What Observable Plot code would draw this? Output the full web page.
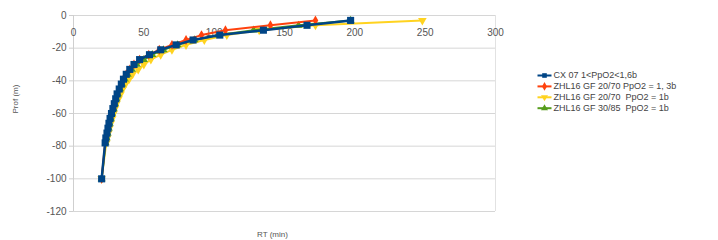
<!DOCTYPE html>
<html>
<head>
<meta charset="utf-8">
<script src="https://cdn.jsdelivr.net/npm/d3@7"></script>
<script src="https://cdn.jsdelivr.net/npm/@observablehq/plot@0.6"></script>
<style>
  html, body { margin: 0; padding: 0; background: #fff; }
  #chart svg { display: block; }
</style>
</head>
<body>
<div id="chart"></div>
<script>
// ---- data ----
const depths = [3, 6, 9, 12, 15, 18, 21, 24, 27, 30, 33, 36, 39, 42, 45, 48, 51, 54, 57, 60, 63, 66, 69, 72, 75, 78, 100];
const cx07RT  = [197, 166, 135, 104, 85, 73, 62, 54, 47, 43, 40, 37.5, 35.5, 34, 32.5, 31, 30, 29, 28, 27, 26, 25.2, 24.5, 23.8, 23, 22.5, 20];
const zhl2070_13RT = [172, 140, 108, 91, 80, 70, 61, 53.5, 47, 43, 40, 37.5, 35.5, 34, 32.5, 31, 30, 29, 28, 27, 26, 25.2, 24.5, 23.8, 23, 22.5, 20];
const zhl2070_1RT  = [248, 172, 132, 109, 93, 80, 70, 62, 55, 50, 46, 42, 39.5, 37, 35, 33.5, 32, 30.5, 29.5, 28.5, 27.5, 26.5, 25.5, 24.8, 24, 23.3, 20];
const zhl3085_1RT  = [197, 160, 128, 103, 86, 74, 64, 56, 50, 45, 41.5, 38.5, 36.5, 34.5, 33, 31.5, 30.5, 29.5, 28.5, 27.5, 26.5, 25.7, 25, 24.2, 23.5, 22.8, 20];
const seriesNames = ["CX 07 1<PpO2<1,6b", "ZHL16 GF 20/70 PpO2 = 1, 3b", "ZHL16 GF 20/70  PpO2 = 1b", "ZHL16 GF 30/85  PpO2 = 1b"];
const seriesRT = [cx07RT, zhl2070_13RT, zhl2070_1RT, zhl3085_1RT];
const xTicks = [0, 50, 100, 150, 200, 250, 300];
const yTicks = [0, -20, -40, -60, -80, -100, -120];

// ---- styles ----
const colors = ["#004586", "#ff420e", "#ffd320", "#579d1c"];
const symbols = ["square", "diamond", "triangle", "triangle"];
const rotations = [0, 0, 180, 0];
const sizes = [4, 3, 3.2, 3];
const drawOrder = [2, 3, 1, 0];

const W = 718, H = 240;
const M = {left: 73, right: 223, top: 15, bottom: 29};
const xDomain = [0, 300], yDomain = [-120, 0];
// pixel -> data helpers (for legend placement in margin)
const pxX = px => xDomain[0] + (px - M.left) / (W - M.left - M.right) * (xDomain[1] - xDomain[0]);
const pxY = py => yDomain[1] - (py - M.top) / (H - M.top - M.bottom) * (yDomain[1] - yDomain[0]);

const seriesData = seriesRT.map((rts, s) => depths.map((d, i) => ({name: seriesNames[s], rt: rts[i], depth: -d})));

const marks = [
  Plot.ruleY(yTicks, {stroke: "#d6d6d6", strokeWidth: 1}),
  Plot.ruleX([0], {stroke: "#cfcfcf"}),
  Plot.ruleX([300], {stroke: "#e2e2e2"}),
  Plot.axisY({ticks: yTicks, tickFormat: d => String(d), tickSize: 4, tickPadding: 3, fontSize: 10, color: "#555", stroke: "#cfcfcf", label: null}),
  Plot.text(xTicks, {x: d => d, y: 0, dy: 17, text: d => String(d), fill: "#555", fontSize: 10}),
  Plot.text(["Prof (m)"], {frameAnchor: "left", dx: -58, rotate: -90, fill: "#555", fontSize: 8}),
  Plot.text(["RT (min)"], {frameAnchor: "bottom", dx: -12, dy: 25, fill: "#555", fontSize: 8})
];

for (const s of drawOrder) {
  marks.push(Plot.line(seriesData[s], {x: "rt", y: "depth", stroke: colors[s], strokeWidth: s === 0 ? 2.5 : 2}));
  marks.push(Plot.dot(seriesData[s], {x: "rt", y: "depth", fill: colors[s], stroke: "none", symbol: symbols[s], r: sizes[s], rotate: rotations[s]}));
}

// legend in right margin
seriesNames.forEach((name, s) => {
  const py = 75 + s * 10.9;
  marks.push(Plot.link([name], {x1: pxX(537), x2: pxX(551), y1: pxY(py), y2: pxY(py), stroke: colors[s], strokeWidth: 2}));
  marks.push(Plot.dot([name], {x: pxX(544), y: pxY(py), fill: colors[s], symbol: symbols[s], r: 2.6, rotate: rotations[s]}));
  marks.push(Plot.text([name], {x: pxX(553), y: pxY(py), text: d => d, textAnchor: "start", fill: "#444", fontSize: 9}));
});

const chart = Plot.plot({
  width: W, height: H,
  marginLeft: M.left, marginRight: M.right, marginTop: M.top, marginBottom: M.bottom,
  style: {fontFamily: "Liberation Sans, Arial, sans-serif", background: "#fff"},
  x: {domain: xDomain, axis: null},
  y: {domain: yDomain, axis: null},
  marks
});
document.getElementById("chart").append(chart);
</script>
</body>
</html>
